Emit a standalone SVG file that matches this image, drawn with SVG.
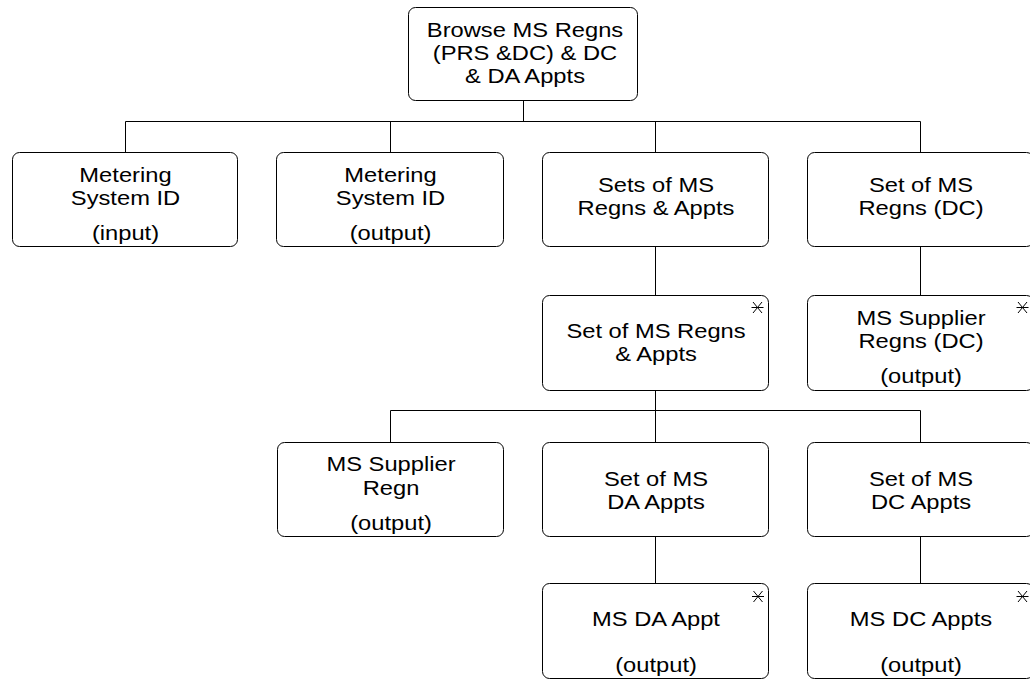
<svg xmlns="http://www.w3.org/2000/svg" width="1030" height="682" viewBox="0 0 1030 682">
<style>
.box{fill:#fff;stroke:#000;stroke-width:1}
.t{font-family:"Liberation Sans",Arial,sans-serif;font-size:21px;text-anchor:middle;fill:#000}
.c{fill:none;stroke:#000;stroke-width:1}
</style>
<defs>
<g id="ast" stroke="#000" stroke-width="1" fill="none">
<line x1="-6" y1="0" x2="6" y2="0"/>
<line x1="-4.5" y1="-5.5" x2="4.5" y2="5.5"/>
<line x1="4.5" y1="-5.5" x2="-4.5" y2="5.5"/>
</g>
</defs>
<rect width="1030" height="682" fill="#fff"/>
<g id="connectors">
<path class="c" d="M523.5 100V121.5M125.5 121.5H920.5M125.5 121.5V152M390.5 121.5V152M655.5 121.5V152M920.5 121.5V152"/>
<path class="c" d="M655.5 246V295M920.5 246V295"/>
<path class="c" d="M655.5 390V410.5M390.5 410.5H920.5M390.5 410.5V442M655.5 410.5V442M920.5 410.5V442"/>
<path class="c" d="M655.5 536V583M920.5 536V583"/>
</g>
<g id="n0"><rect class="box" x="408.5" y="7.5" width="229" height="93" rx="7"/>
<g class="t" transform="translate(525 0) scale(1.13 1)"><text x="0" y="37">Browse MS Regns</text><text x="0" y="60">(PRS &amp;DC) &amp; DC</text><text x="0" y="83">&amp; DA Appts</text></g></g>
<g id="n1"><rect class="box" x="12.5" y="152.5" width="225" height="94" rx="7"/>
<g class="t" transform="translate(125.5 0) scale(1.13 1)"><text x="0" y="182">Metering</text><text x="0" y="205">System ID</text><text x="0" y="240">(input)</text></g></g>
<g id="n2"><rect class="box" x="276.5" y="152.5" width="227" height="94" rx="7"/>
<g class="t" transform="translate(390.5 0) scale(1.13 1)"><text x="0" y="182">Metering</text><text x="0" y="205">System ID</text><text x="0" y="240">(output)</text></g></g>
<g id="n3"><rect class="box" x="542.5" y="152.5" width="226" height="94" rx="7"/>
<g class="t" transform="translate(656 0) scale(1.13 1)"><text x="0" y="192">Sets of MS</text><text x="0" y="215">Regns &amp; Appts</text></g></g>
<g id="n4"><rect class="box" x="807.5" y="152.5" width="226" height="94" rx="7"/>
<g class="t" transform="translate(921 0) scale(1.13 1)"><text x="0" y="192">Set of MS</text><text x="0" y="215">Regns (DC)</text></g></g>
<g id="n5"><rect class="box" x="542.5" y="295.5" width="226" height="95" rx="7"/>
<use href="#ast" x="757.5" y="307.5"/>
<g class="t" transform="translate(656 0) scale(1.13 1)"><text x="0" y="338">Set of MS Regns</text><text x="0" y="361">&amp; Appts</text></g></g>
<g id="n6"><rect class="box" x="807.5" y="295.5" width="226" height="95" rx="7"/>
<use href="#ast" x="1022.5" y="307.5"/>
<g class="t" transform="translate(921 0) scale(1.13 1)"><text x="0" y="325">MS Supplier</text><text x="0" y="348">Regns (DC)</text><text x="0" y="383">(output)</text></g></g>
<g id="n7"><rect class="box" x="277.5" y="442.5" width="226" height="94" rx="7"/>
<g class="t" transform="translate(391 0) scale(1.13 1)"><text x="0" y="471">MS Supplier</text><text x="0" y="495">Regn</text><text x="0" y="530">(output)</text></g></g>
<g id="n8"><rect class="box" x="542.5" y="442.5" width="226" height="94" rx="7"/>
<g class="t" transform="translate(656 0) scale(1.13 1)"><text x="0" y="486">Set of MS</text><text x="0" y="509">DA Appts</text></g></g>
<g id="n9"><rect class="box" x="807.5" y="442.5" width="226" height="94" rx="7"/>
<g class="t" transform="translate(921 0) scale(1.13 1)"><text x="0" y="486">Set of MS</text><text x="0" y="509">DC Appts</text></g></g>
<g id="n10"><rect class="box" x="542.5" y="583.5" width="226" height="95" rx="7"/>
<use href="#ast" x="758" y="596.5"/>
<g class="t" transform="translate(656 0) scale(1.13 1)"><text x="0" y="626">MS DA Appt</text><text x="0" y="672">(output)</text></g></g>
<g id="n11"><rect class="box" x="807.5" y="583.5" width="226" height="95" rx="7"/>
<use href="#ast" x="1022.5" y="596.5"/>
<g class="t" transform="translate(921 0) scale(1.13 1)"><text x="0" y="626">MS DC Appts</text><text x="0" y="672">(output)</text></g></g>
</svg>
